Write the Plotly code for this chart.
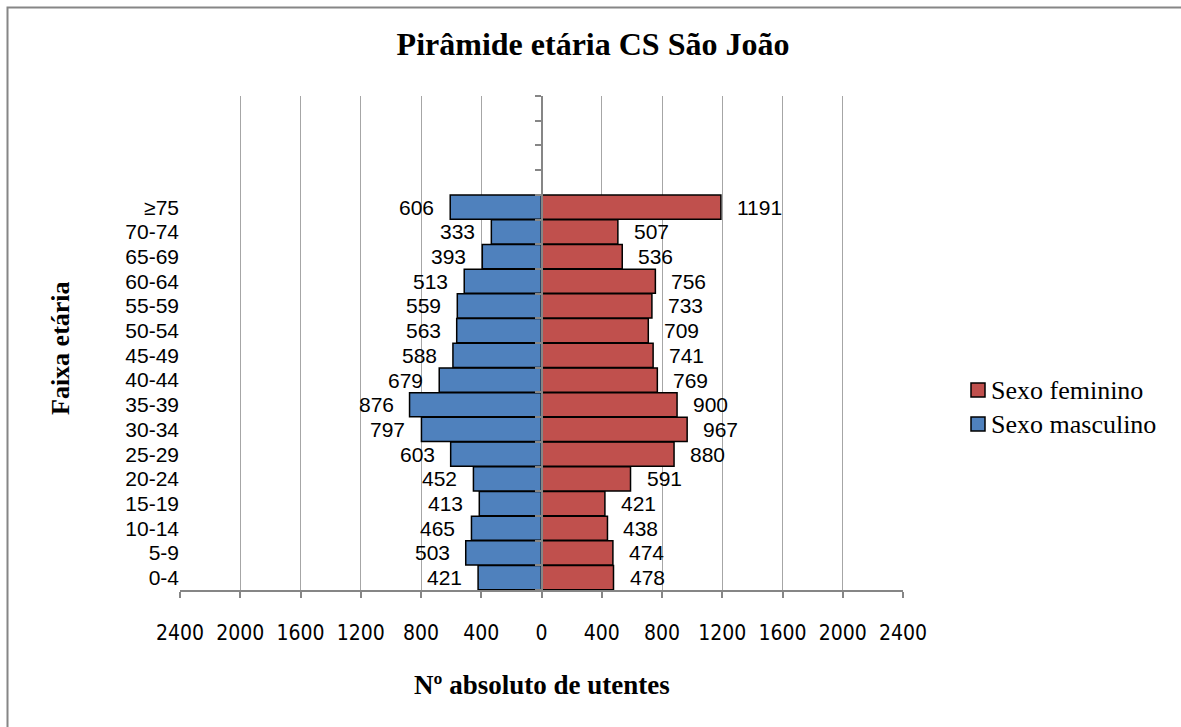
import plotly.graph_objects as go

age_groups = ["0-4", "5-9", "10-14", "15-19", "20-24", "25-29", "30-34", "35-39",
              "40-44", "45-49", "50-54", "55-59", "60-64", "65-69", "70-74", "≥75"]
male = [421, 503, 465, 413, 452, 603, 797, 876, 679, 588, 563, 559, 513, 393, 333, 606]
female = [478, 474, 438, 421, 591, 880, 967, 900, 769, 741, 709, 733, 756, 536, 507, 1191]
x_ticks = [-2400, -2000, -1600, -1200, -800, -400, 0, 400, 800, 1200, 1600, 2000, 2400]
series_names = ["Sexo feminino", "Sexo masculino"]
n_empty = 4

W, H = 1181, 727
L, R, T, B = 180, 903, 96, 590

def px(xp):
    return (xp - L) / (R - L)

def py(yp):
    return (B - yp) / (B - T)

BLUE = "#4F81BD"
RED = "#C0504D"
GRID = "#A6A6A6"
AXIS = "#868686"
SERIF = "Liberation Serif, Times New Roman, serif"
SANS = "Liberation Sans, Arial, sans-serif"
NARROW = "Liberation Sans Narrow, Arial Narrow, DejaVu Sans Condensed, sans-serif"

ypos = list(range(len(age_groups)))

fig = go.Figure()
fig.add_trace(go.Bar(
    name=series_names[1], y=ypos, x=[-v for v in male], orientation="h",
    marker=dict(color=BLUE, line=dict(color="black", width=1.5)),
    hoverinfo="skip", showlegend=False,
))
fig.add_trace(go.Bar(
    name=series_names[0], y=ypos, x=female, orientation="h",
    marker=dict(color=RED, line=dict(color="black", width=1.5)),
    hoverinfo="skip", showlegend=False,
))
# dummy trace for the centre axis
fig.add_trace(go.Scatter(x=[0], y=[0], yaxis="y2", mode="markers",
                         marker=dict(opacity=0), showlegend=False, hoverinfo="skip"))

annotations = []
for i, (m, f) in enumerate(zip(male, female)):
    annotations.append(dict(x=-m, y=i, xref="x", yref="y", text=str(m), showarrow=False,
                            xanchor="right", xshift=-14, font=dict(family=SANS, size=21, color="black")))
    annotations.append(dict(x=f, y=i, xref="x", yref="y", text=str(f), showarrow=False,
                            xanchor="left", xshift=14, font=dict(family=SANS, size=21, color="black")))

annotations.append(dict(x=0.5, y=py(685), xref="paper", yref="paper",
                        text="<b>Nº absoluto de utentes</b>", showarrow=False,
                        xanchor="center", yanchor="middle",
                        font=dict(family=SERIF, size=27, color="black")))
annotations.append(dict(x=px(60), y=py(348), xref="paper", yref="paper",
                        text="<b>Faixa etária</b>", showarrow=False, textangle=-90,
                        xanchor="center", yanchor="middle",
                        font=dict(family=SERIF, size=26, color="black")))

# manual legend
shapes = []
legend_colors = [RED, BLUE]
legend_y = [390, 424]
for name, col, yc in zip(series_names, legend_colors, legend_y):
    shapes.append(dict(type="rect", xref="paper", yref="paper",
                       x0=px(971), x1=px(985), y0=py(yc + 7), y1=py(yc - 7),
                       fillcolor=col, line=dict(color="black", width=1.5)))
    annotations.append(dict(x=px(989), y=py(yc), xref="paper", yref="paper", text=name,
                            showarrow=False, xanchor="left", yanchor="middle",
                            font=dict(family=SERIF, size=26, color="black")))

shapes.append(dict(type="rect", xref="paper", yref="paper",
                   x0=px(7.5), x1=px(W + 50), y0=py(7.5), y1=py(H + 50),
                   line=dict(color=AXIS, width=2), layer="below"))

fig.update_layout(
    width=W, height=H,
    margin=dict(l=L, r=W - R, t=T, b=H - B),
    paper_bgcolor="white", plot_bgcolor="white",
    barmode="relative", bargap=0.02,
    title=dict(text="<b>Pirâmide etária CS São João</b>", x=px(593), xref="paper",
               xanchor="center", y=1 - 44 / H, yanchor="middle",
               font=dict(family=SERIF, size=32, color="black")),
    xaxis=dict(range=[-2400, 2400], tickvals=x_ticks, ticktext=[str(abs(v)) for v in x_ticks],
               showgrid=True, gridcolor=GRID, gridwidth=1, zeroline=False,
               showline=True, linecolor=AXIS, linewidth=1.5,
               ticks="outside", ticklen=6, tickcolor=AXIS, tickwidth=1.5,
               ticklabelstandoff=17,
               tickfont=dict(family=NARROW, size=21, color="black"), fixedrange=True),
    yaxis=dict(range=[-0.5, len(age_groups) + n_empty - 0.5], tickvals=ypos, ticktext=age_groups,
               showgrid=False, zeroline=False, showline=False, ticks="",
               tickfont=dict(family=SANS, size=21, color="black"), fixedrange=True),
    yaxis2=dict(overlaying="y", matches="y", anchor="free", position=0.5, side="left",
                tickvals=[k - 0.5 for k in range(len(age_groups) + n_empty + 1)],
                showticklabels=False, ticks="outside", ticklen=6, tickcolor=AXIS, tickwidth=1.5,
                showline=True, linecolor=AXIS, linewidth=1.5, showgrid=False, zeroline=False),
    annotations=annotations,
    shapes=shapes,
    showlegend=False,
)

fig.write_html("out.html", config={"displayModeBar": False},
               post_script="document.body.style.margin='0px';document.body.style.overflow='hidden';")
